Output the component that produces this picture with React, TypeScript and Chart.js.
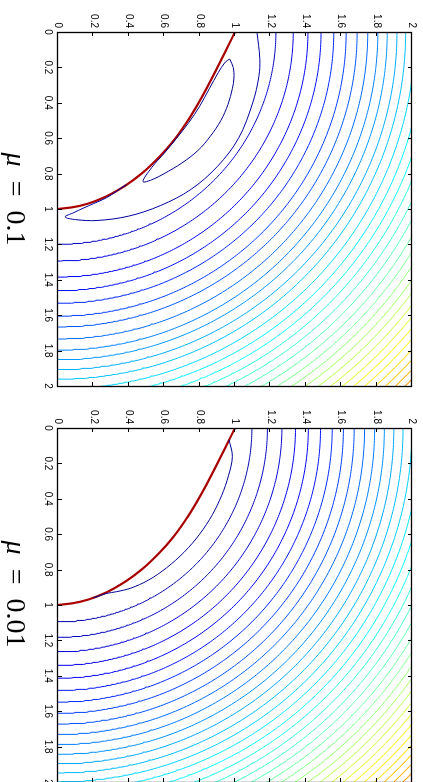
import React, { useEffect, useRef } from "react";
import { Chart, registerables } from "chart.js";

Chart.register(...registerables);

// ---------- data (u = horizontal axis of the printed figure, v = vertical axis) ----------
const tickValues = [0, 0.2, 0.4, 0.6, 0.8, 1, 1.2, 1.4, 1.6, 1.8, 2];
const tickLabels = ["0", "0.2", "0.4", "0.6", "0.8", "1", "1.2", "1.4", "1.6", "1.8", "2"];
const panelTitles = ["0.1", "0.01"];

// red boundary curve
const boundaryU = [1.0, 0.951, 0.8945, 0.8404, 0.7822, 0.7239, 0.649, 0.575, 0.475, 0.386, 0.2705, 0.178, 0.0837, 0.0];
const boundaryV = [0.0, 0.1, 0.213, 0.317, 0.421, 0.515, 0.619, 0.703, 0.798, 0.864, 0.93, 0.967, 0.99, 1.0];

// mu = 0.1 : closed loop next to the boundary
const mu1LoopU = [0.97, 0.99, 0.994, 0.985, 0.96, 0.92, 0.86, 0.79, 0.7, 0.6, 0.53, 0.48, 0.53, 0.6, 0.67, 0.74, 0.8, 0.855, 0.905, 0.945, 0.97];
const mu1LoopV = [0.153, 0.2, 0.26, 0.32, 0.41, 0.5, 0.59, 0.67, 0.74, 0.8, 0.835, 0.845, 0.765, 0.685, 0.6, 0.51, 0.42, 0.32, 0.23, 0.17, 0.153];
// mu = 0.1 : hooked contour (from the v = 0 edge round to a tip, back along the boundary)
const mu1HookU = [1.124, 1.14, 1.135, 1.1, 1.02, 0.9, 0.75, 0.58, 0.4, 0.22, 0.1, 0.04, 0.09, 0.141, 0.2, 0.273, 0.33, 0.386];
const mu1HookV = [0.0, 0.15, 0.25, 0.4, 0.6, 0.76, 0.89, 0.98, 1.04, 1.065, 1.06, 1.045, 1.02, 0.996, 0.97, 0.937, 0.9, 0.862];
// mu = 0.1 : regular contours, intercept on the v = 0 edge and on the u = 0 edge
const mu1ArcU = [1.231, 1.329, 1.412, 1.486, 1.558, 1.628, 1.69, 1.75, 1.807, 1.86, 1.915, 1.964];
const mu1ArcV = [1.2, 1.294, 1.385, 1.462, 1.533, 1.606, 1.667, 1.735, 1.798, 1.852, 1.908, 1.962];
// mu = 0.1 : outer contours (squared radius)
const mu1OuterR2 = [4.07, 4.28, 4.49, 4.7, 4.91, 5.12, 5.33, 5.54, 5.75, 5.96, 6.17, 6.38, 6.59, 6.8, 7.01, 7.22, 7.43, 7.64, 7.85];

// mu = 0.01 : innermost contour, ends on the boundary
const mu2InnerU = [0.966, 0.985, 0.963, 0.925, 0.872, 0.8, 0.714, 0.613, 0.51, 0.41, 0.33, 0.273, 0.2];
const mu2InnerV = [0.066, 0.16, 0.27, 0.38, 0.49, 0.6, 0.7, 0.79, 0.86, 0.905, 0.925, 0.935, 0.96];
// mu = 0.01 : contour levels (squared radius)
const mu2R2 = [1.2, 1.4, 1.6, 1.8, 2.0, 2.2, 2.4, 2.6, 2.8, 3.0, 3.2, 3.4, 3.6, 3.8, 4.0, 4.2, 4.4, 4.6, 4.8, 5.0, 5.2, 5.4, 5.6, 5.8, 6.0, 6.2, 6.4, 6.6, 6.8, 7.0, 7.2, 7.4, 7.6, 7.8];

// ---------- helpers ----------
function jet(t: number) {
  const c = (x: number) => Math.max(0, Math.min(1, x));
  const r = c(1.5 - Math.abs(4 * t - 3));
  const g = c(1.5 - Math.abs(4 * t - 2));
  const b = c(1.5 - Math.abs(4 * t - 1));
  return `rgb(${Math.round(r * 255)},${Math.round(g * 255)},${Math.round(b * 255)})`;
}
const levelColor = (level: number) => jet((level - 0.8) / 9.7);

// chart is drawn unrotated: x = v, y = u
function listData(us: number[], vs: number[]) {
  return us.map((u, i) => ({ x: vs[i], y: u }));
}
function ellipseData(uInt: number, vInt: number) {
  const pts: { x: number; y: number }[] = [];
  const N = 160;
  for (let i = 0; i <= N; i++) {
    const th = (i / N) * (Math.PI / 2);
    pts.push({ x: vInt * Math.cos(th), y: uInt * Math.sin(th) });
  }
  return pts;
}
function circleData(r: number) {
  const pts: { x: number; y: number }[] = [];
  const t0 = r > 2 ? Math.acos(Math.min(1, 2 / r)) - 0.01 : 0;
  const t1 = r > 2 ? Math.asin(Math.min(1, 2 / r)) + 0.01 : Math.PI / 2;
  const N = 160;
  for (let i = 0; i <= N; i++) {
    const th = t0 + ((t1 - t0) * i) / N;
    pts.push({ x: r * Math.cos(th), y: r * Math.sin(th) });
  }
  return pts;
}
function line(data: { x: number; y: number }[], color: string, width = 1, tension = 0, monotone = false) {
  return {
    data,
    showLine: true,
    borderColor: color,
    backgroundColor: color,
    borderWidth: width,
    pointRadius: 0,
    tension,
    cubicInterpolationMode: monotone ? "monotone" : "default",
    fill: false,
  };
}
function boundaryDataset() {
  return line(listData(boundaryU, boundaryV), "#a80000", 2.2, 0.4, true);
}

function mu1Datasets() {
  const ds: any[] = [];
  ds.push(line(listData(mu1LoopU, mu1LoopV), levelColor(0.9), 1, 0.35));
  ds.push(line(listData(mu1HookU, mu1HookV), levelColor(1.1), 1, 0.35));
  mu1ArcU.forEach((a, i) => ds.push(line(ellipseData(a, mu1ArcV[i]), levelColor(a * mu1ArcV[i]))));
  mu1OuterR2.forEach((l) => ds.push(line(circleData(Math.sqrt(l)), levelColor(l))));
  ds.push(boundaryDataset());
  return ds;
}
function mu2Datasets() {
  const ds: any[] = [];
  ds.push(line(listData(mu2InnerU, mu2InnerV), levelColor(1.0), 1, 0.35));
  mu2R2.forEach((l) => ds.push(line(circleData(Math.sqrt(l)), levelColor(l))));
  ds.push(boundaryDataset());
  return ds;
}

const framePlugin = {
  id: "frame",
  afterDraw(chart: any) {
    const { ctx, chartArea } = chart;
    const xs = chart.scales.x;
    const ys = chart.scales.y;
    const { left, right, top, bottom } = chartArea;
    ctx.save();
    ctx.strokeStyle = "#000";
    ctx.lineWidth = 1;
    const tl = 4;
    ctx.beginPath();
    tickValues.forEach((v) => {
      const px = Math.round(xs.getPixelForValue(v)) + 0.5;
      ctx.moveTo(px, bottom);
      ctx.lineTo(px, bottom - tl);
      ctx.moveTo(px, top);
      ctx.lineTo(px, top + tl);
      const py = Math.round(ys.getPixelForValue(v)) + 0.5;
      ctx.moveTo(left, py);
      ctx.lineTo(left + tl, py);
      ctx.moveTo(right, py);
      ctx.lineTo(right - tl, py);
    });
    ctx.stroke();
    ctx.lineWidth = 1.3;
    ctx.strokeRect(Math.round(left) + 0.5, Math.round(top) + 0.5, Math.round(right - left), Math.round(bottom - top));
    ctx.restore();
  },
};

function makeConfig(datasets: any[], yAxisWidth: number, padRight: number): any {
  const tickFont = { family: "'Liberation Sans', Arial, sans-serif", size: 10 };
  return {
    type: "scatter",
    data: { datasets },
    options: {
      animation: false,
      responsive: false,
      maintainAspectRatio: false,
      events: [],
      layout: { padding: { left: 0, right: padRight, top: 11, bottom: 0 } },
      plugins: { legend: { display: false }, tooltip: { enabled: false }, title: { display: false } },
      scales: {
        x: {
          type: "linear",
          position: "bottom",
          min: 0,
          max: 2,
          grid: { display: false, drawTicks: false },
          border: { display: false },
          afterBuildTicks: (s: any) => {
            s.ticks = tickValues.map((v) => ({ value: v }));
          },
          ticks: {
            autoSkip: false,
            maxRotation: 0,
            minRotation: 0,
            padding: 4,
            color: "#000",
            font: tickFont,
            callback: (_v: any, i: number) => tickLabels[i],
          },
          afterFit: (s: any) => {
            s.height = 58;
            s.paddingLeft = 0;
            s.paddingRight = 0;
          },
        },
        y: {
          type: "linear",
          position: "left",
          min: 0,
          max: 2,
          grid: { display: false, drawTicks: false },
          border: { display: false },
          afterBuildTicks: (s: any) => {
            s.ticks = tickValues.map((v) => ({ value: v }));
          },
          ticks: {
            autoSkip: false,
            padding: 4,
            color: "#000",
            font: tickFont,
            callback: (_v: any, i: number) => tickLabels[i],
          },
          afterFit: (s: any) => {
            s.width = yAxisWidth;
            s.paddingTop = 0;
            s.paddingBottom = 0;
          },
        },
      },
    },
    plugins: [framePlugin],
  };
}

function Panel({ datasets, width, yAxisWidth, padRight, left }: any) {
  const ref = useRef<HTMLCanvasElement | null>(null);
  useEffect(() => {
    if (!ref.current) return;
    const chart = new Chart(ref.current, makeConfig(datasets, yAxisWidth, padRight));
    return () => chart.destroy();
  }, []);
  return (
    <canvas
      ref={ref}
      width={width}
      height={423}
      style={{ position: "absolute", left, top: 0, width, height: 423, display: "block" }}
    />
  );
}

function MuLabel({ value, centerX }: { value: string; centerX: number }) {
  return (
    <div
      style={{
        position: "absolute",
        left: centerX - 100,
        top: 393,
        width: 200,
        textAlign: "center",
        fontFamily: "'Liberation Serif', 'DejaVu Serif', serif",
        fontSize: 28,
        lineHeight: "28px",
        color: "#000",
        whiteSpace: "pre",
      }}
    >
      <span style={{ fontStyle: "italic" }}>μ</span>
      {"  =  " + value}
    </div>
  );
}

export default function App() {
  return (
    <div style={{ position: "fixed", left: 0, top: 0, width: 423, height: 782, overflow: "hidden", background: "#fff" }}>
      <div
        style={{
          position: "absolute",
          left: 0,
          top: 0,
          width: 782,
          height: 423,
          transformOrigin: "0 0",
          transform: "translate(423px, 0px) rotate(90deg)",
          background: "#fff",
        }}
      >
        <Panel datasets={mu1Datasets()} width={391} yAxisWidth={32} padRight={5} left={0} />
        <Panel datasets={mu2Datasets()} width={392} yAxisWidth={37} padRight={1} left={391} />
        <MuLabel value={panelTitles[0]} centerX={199} />
        <MuLabel value={panelTitles[1]} centerX={594} />
      </div>
    </div>
  );
}
